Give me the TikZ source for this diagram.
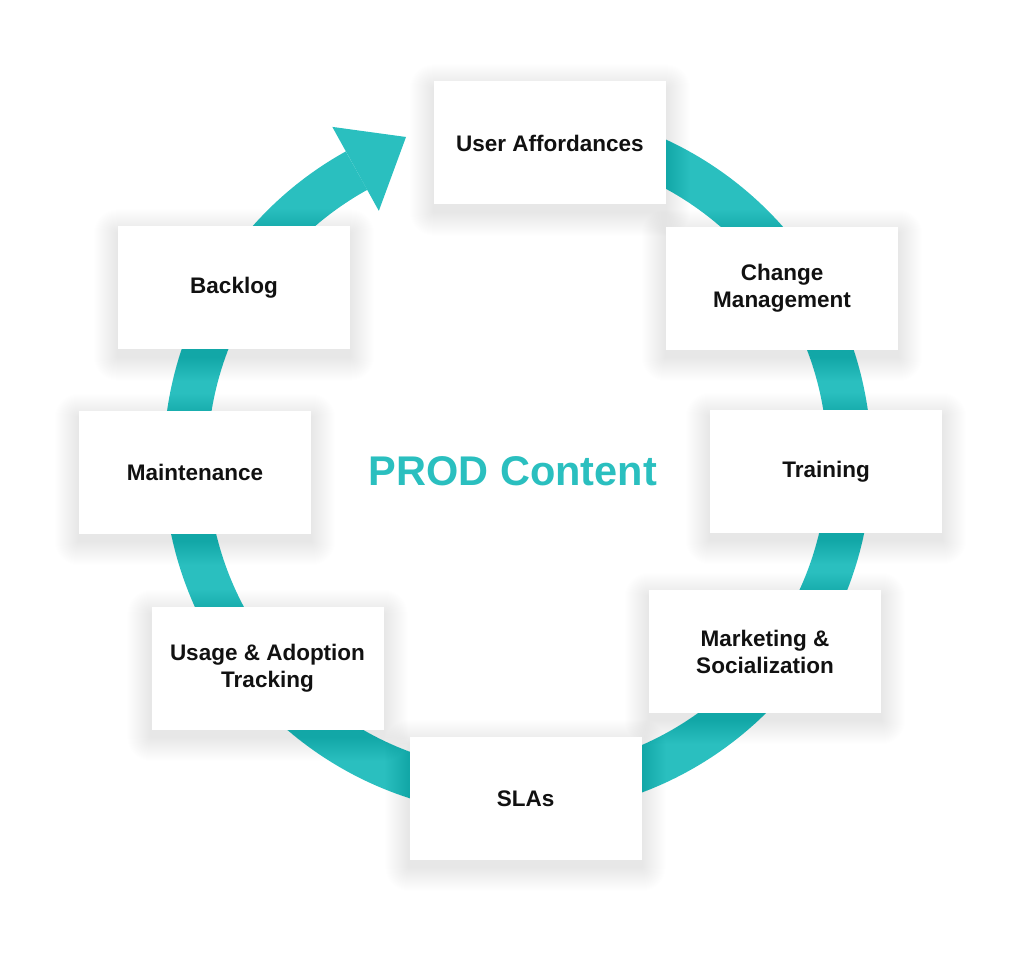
\documentclass[tikz,border=0pt]{standalone}
\usepackage{fontspec}
\setmainfont{Liberation Sans}
\usetikzlibrary{calc}
\definecolor{teal1}{HTML}{2ABFBF}
\definecolor{ink}{HTML}{111111}
\pgfdeclarelayer{ringlayer}
\pgfdeclarelayer{shadowlayer}
\pgfsetlayers{ringlayer,shadowlayer,main}
\begin{document}
\begin{tikzpicture}[x=1pt,y=1pt,
  stagebox/.style={fill=white, minimum width=232pt, minimum height=123pt, inner sep=0pt,
    align=center, text=ink, font=\bfseries\fontsize{22.5}{27}\selectfont},
  title/.style={text=teal1, font=\bfseries\fontsize{41.5}{48}\selectfont},
  ring/.style={draw=teal1, line width=44pt},
  head/.style={fill=teal1},
  softshadow/.style={fill=black, opacity=0.0032}]
\useasboundingbox (0,0) rectangle (1024,961);
\coordinate (c) at (517.5,500);
\coordinate (tip) at (406,824);
\node[stagebox] (ua) at (550,818) {User Affordances};
\node[stagebox] (cm) at (782,672.5) {Change\\Management};
\node[stagebox] (tr) at (826,489.5) {Training};
\node[stagebox] (ms) at (765,309.5) {Marketing \&\\Socialization};
\node[stagebox] (sla) at (525.5,162.5) {SLAs};
\node[stagebox] (uat) at (267.5,292.5) {Usage \& Adoption\\Tracking};
\node[stagebox] (mt) at (195,488.5) {Maintenance};
\node[stagebox] (bl) at (234,673) {Backlog};
\node[title] (prod) at (513,490) {PROD Content};
\begin{pgfonlayer}{ringlayer}
  \draw[ring] ($(c)+(95:332)$) arc[start angle=95, end angle=-241, radius=332];
  \fill[head] ($(c)+(119:382)$) -- (tip) -- ($(c)+(119:286)$) -- cycle;
\end{pgfonlayer}
\begin{pgfonlayer}{shadowlayer}
  \foreach \n in {ua,cm,tr,ms,sla,uat,mt,bl}{
    \foreach \k in {1,...,24}{
      \fill[softshadow, rounded corners=\k pt]
        ([xshift=-\k pt, yshift=-7pt-\k pt]\n.south west) rectangle
        ([xshift=\k pt, yshift=-7pt+\k pt]\n.north east);
    }
  }
\end{pgfonlayer}
\end{tikzpicture}
\end{document}
